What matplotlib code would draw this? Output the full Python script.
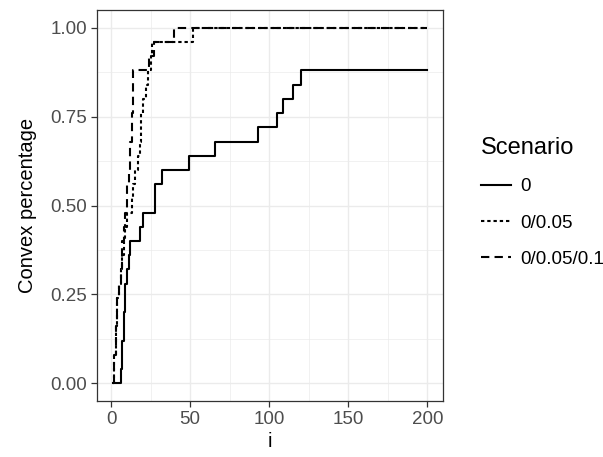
import numpy as np
import matplotlib
matplotlib.use('Agg')
import matplotlib.pyplot as plt
from matplotlib.ticker import MultipleLocator

plt.rcParams['font.family'] = ['Liberation Sans', 'DejaVu Sans']

# step change points (i, convex percentage) for each scenario
i_end = 200
s0_i = [1, 6, 7, 8, 9, 10, 11, 12, 18, 20, 28, 32, 49, 66, 93, 105, 109, 115, 120]
s0_v = [0, 0.04, 0.12, 0.20, 0.28, 0.32, 0.36, 0.40, 0.44, 0.48, 0.56, 0.60,
        0.64, 0.68, 0.72, 0.76, 0.80, 0.84, 0.88]
s1_i = [1, 2, 3, 4, 5, 6, 7, 8, 9, 10, 13, 14, 15, 17, 18, 19, 20, 22, 23, 25, 26, 52]
s1_v = [0, 0.08, 0.16, 0.24, 0.28, 0.32, 0.36, 0.40, 0.44, 0.48, 0.52, 0.56,
        0.60, 0.64, 0.68, 0.76, 0.80, 0.84, 0.88, 0.92, 0.96, 1.00]
s2_i = [1, 2, 3, 4, 5, 6, 7, 8, 9, 10, 11, 12, 13, 14, 24, 27, 40]
s2_v = [0, 0.08, 0.16, 0.24, 0.28, 0.32, 0.40, 0.44, 0.48, 0.56, 0.60, 0.68,
        0.76, 0.88, 0.92, 0.96, 1.00]
labels = ['0', '0/0.05', '0/0.05/0.1']

W, H = 603, 457
fig = plt.figure(figsize=(W/100, H/100), dpi=100)
ax = fig.add_axes((97/W, 1-401/H, 346/W, 391/H))

styles = ['-', (0, (1.6, 1.4)), (0, (4, 2.5))]
for xs, ys, lab, ls in zip([s0_i, s1_i, s2_i], [s0_v, s1_v, s2_v], labels, styles):
	x = np.array(xs + [i_end])
	y = np.array(ys + [ys[-1]])
	ax.plot(x, y, drawstyle='steps-post', color='black', lw=1.5, ls=ls, label=lab)

ax.set_xlim(1 - 0.05*199, 200 + 0.05*199)
ax.set_ylim(-0.05, 1.05)
ax.xaxis.set_major_locator(MultipleLocator(50))
ax.xaxis.set_minor_locator(MultipleLocator(25))
ax.yaxis.set_major_locator(MultipleLocator(0.25))
ax.yaxis.set_minor_locator(MultipleLocator(0.125))
ax.yaxis.set_major_formatter(plt.FuncFormatter(lambda v, p: f'{v:.2f}'))

ax.grid(which='major', color='#EBEBEB', lw=1.0)
ax.grid(which='minor', color='#EBEBEB', lw=0.5)
ax.set_axisbelow(True)
for s in ax.spines.values():
	s.set_color('#333333')
	s.set_linewidth(0.9)
ax.tick_params(which='major', length=4, width=0.9, color='#333333',
	labelcolor='#4D4D4D', labelsize=13.5, pad=3)
ax.tick_params(which='minor', length=0)

ax.set_xlabel('i', fontsize=14.5, labelpad=3)
ax.set_ylabel('Convex percentage', fontsize=14.5, labelpad=10)

leg = ax.legend(loc='upper left', bbox_to_anchor=(481/W, 1-137/H),
	bbox_transform=fig.transFigure, frameon=False, title='Scenario',
	fontsize=13.5, title_fontsize=17, alignment='left', borderpad=0,
	borderaxespad=0, handlelength=1.6, handletextpad=0.5, labelspacing=1.02)

fig.savefig('out.png', dpi=100)
